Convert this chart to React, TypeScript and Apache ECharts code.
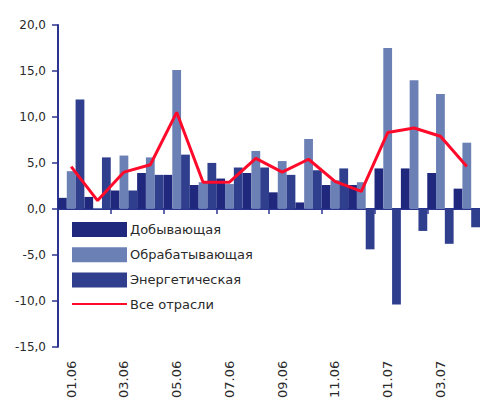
import React, { useEffect, useRef } from "react";
import * as echarts from "echarts";

const categories = ["01.06","02.06","03.06","04.06","05.06","06.06","07.06","08.06","09.06","10.06","11.06","12.06","01.07","02.07","03.07","04.07"];
const dobyv = [1.2, 1.3, 2.0, 3.9, 3.7, 2.6, 3.3, 3.9, 1.8, 0.7, 2.6, 2.6, 4.4, 4.4, 3.9, 2.2];
const obrab = [4.1, 0.1, 5.8, 5.6, 15.1, 2.9, 2.7, 6.3, 5.2, 7.6, 3.1, 2.9, 17.5, 14.0, 12.5, 7.2];
const energ = [11.9, 5.6, 2.0, 3.7, 5.9, 5.0, 4.5, 4.5, 3.7, 4.2, 4.4, -4.4, -10.4, -2.4, -3.8, -2.0];
const vse = [4.6, 0.9, 4.0, 4.8, 10.5, 2.9, 2.9, 5.5, 4.0, 5.4, 3.0, 1.9, 8.3, 8.8, 7.9, 4.6];

const C_DOB = "#20287e";
const C_OBR = "#6b80b5";
const C_EN = "#2f3f8e";
const C_LINE = "#ff0a2a";
const AXIS = "#2b3590";
const FONT = "DejaVu Sans";

export default function App() {
  const ref = useRef<HTMLDivElement>(null);
  useEffect(() => {
    if (!ref.current) return;
    const chart = echarts.init(ref.current, undefined, { renderer: "svg" });
    chart.setOption({
      animation: false,
      backgroundColor: "#ffffff",
      grid: { left: 58, right: -4, top: 25, bottom: 52, containLabel: false },
      legend: {
        orient: "vertical",
        left: 71,
        top: 222,
        padding: 0,
        itemWidth: 55,
        itemHeight: 15,
        itemGap: 10.2,
        textStyle: { fontFamily: FONT, fontSize: 13, color: "#2a2a2a", padding: [0, 0, 0, -2] },
        data: [
          { name: "Добывающая", icon: "rect" },
          { name: "Обрабатывающая", icon: "rect" },
          { name: "Энергетическая", icon: "rect" },
          { name: "Все отрасли", itemStyle: { opacity: 0 } },
        ],
      },
      xAxis: [
        {
          type: "category",
          data: categories,
          position: "bottom",
          axisLine: { show: true, onZero: true, lineStyle: { color: AXIS, width: 2 } },
          axisTick: { show: true, interval: 1, length: 5, lineStyle: { color: AXIS, width: 1.5 } },
          axisLabel: { show: false },
          splitLine: { show: false },
        },
        {
          type: "category",
          data: categories,
          position: "bottom",
          axisLine: { show: false, onZero: false },
          axisTick: { show: false },
          axisLabel: {
            show: true,
            interval: 1,
            rotate: 90,
            margin: 14,
            fontFamily: FONT,
            fontSize: 13,
            color: "#2a2a2a",
          },
          splitLine: { show: false },
        },
      ],
      yAxis: {
        type: "value",
        min: -15,
        max: 20,
        interval: 5,
        axisLine: { show: true, lineStyle: { color: AXIS, width: 2 } },
        axisTick: { show: true, inside: false, length: 6, lineStyle: { color: AXIS, width: 1.5 } },
        axisLabel: {
          margin: 12,
          fontFamily: FONT,
          fontSize: 12,
          color: "#2a2a2a",
          formatter: (v: number) => v.toFixed(1).replace(".", ","),
        },
        splitLine: { show: false },
      },
      series: [
        { name: "Добывающая", type: "bar", data: dobyv, itemStyle: { color: C_DOB }, barGap: "0%", barCategoryGap: "0%", xAxisIndex: 0 },
        { name: "Обрабатывающая", type: "bar", data: obrab, itemStyle: { color: C_OBR }, barGap: "0%", barCategoryGap: "0%", xAxisIndex: 0 },
        { name: "Энергетическая", type: "bar", data: energ, itemStyle: { color: C_EN }, barGap: "0%", barCategoryGap: "0%", xAxisIndex: 0 },
        {
          name: "Все отрасли",
          type: "line",
          data: vse,
          xAxisIndex: 0,
          symbol: "none",
          z: 5,
          itemStyle: { color: C_LINE },
          lineStyle: { color: C_LINE, width: 3 },
        },
      ],
    });
    return () => chart.dispose();
  }, []);
  return (
    <div
      ref={ref}
      style={{ position: "fixed", left: 0, top: 0, width: 480, height: 401, background: "#fff" }}
    />
  );
}
